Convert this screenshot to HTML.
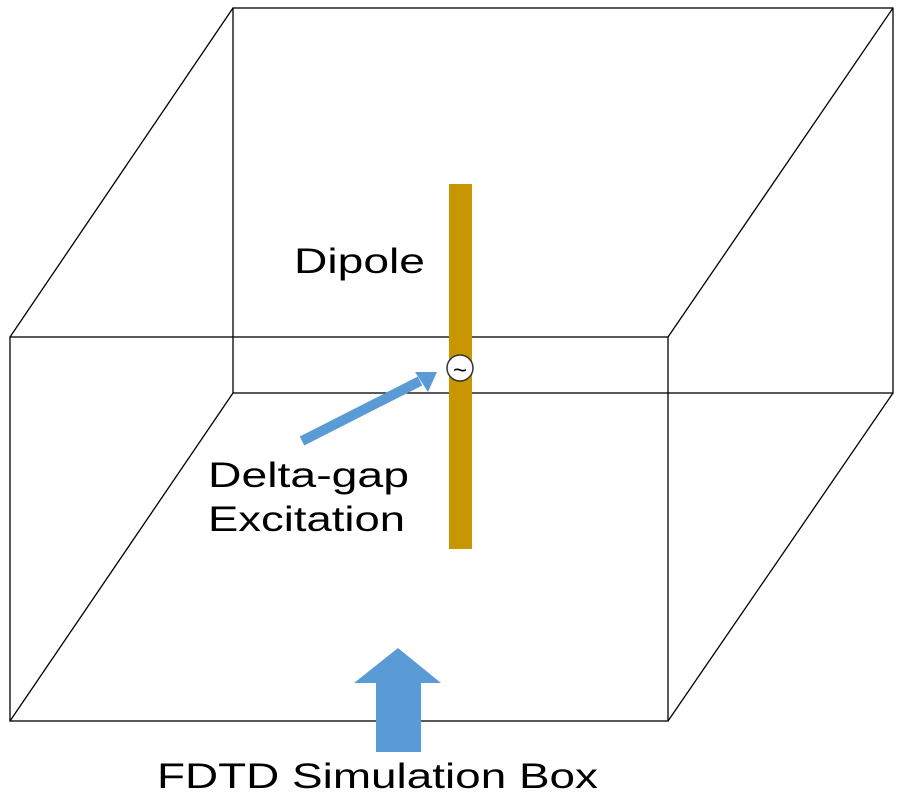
<!DOCTYPE html>
<html><head><style>body{margin:0;background:#fff}</style></head><body>
<svg width="900" height="800" viewBox="0 0 900 800" xmlns="http://www.w3.org/2000/svg">
<g stroke="#000" stroke-width="1.3" fill="none">
<rect x="233" y="8" width="660" height="385"/>
<rect x="10" y="337" width="658" height="384"/>
<line x1="10" y1="337" x2="233" y2="8"/>
<line x1="668" y1="337" x2="893" y2="8"/>
<line x1="10" y1="721" x2="233" y2="393"/>
<line x1="668" y1="721" x2="893" y2="393"/>
</g>
<rect x="449" y="184" width="23" height="365" fill="#C89600"/>
<circle cx="460" cy="368" r="13" fill="#fff" stroke="#333" stroke-width="1.5"/>
<text x="460" y="378" font-family="Liberation Sans, sans-serif" font-size="24" text-anchor="middle">~</text>
<line x1="302" y1="441" x2="420" y2="381" stroke="#5B9BD5" stroke-width="10"/>
<polygon points="437,372 415,372 428,392" fill="#5B9BD5"/>
<polygon points="376,752 421,752 421,683 441,683 398,648 354,683 376,683" fill="#5B9BD5"/>
<g font-family="Liberation Sans, sans-serif" font-size="35" fill="#000" lengthAdjust="spacingAndGlyphs">
<text x="294" y="273" textLength="131" lengthAdjust="spacingAndGlyphs">Dipole</text>
<text x="208" y="487" textLength="201" lengthAdjust="spacingAndGlyphs">Delta-gap</text>
<text x="208" y="531" textLength="197" lengthAdjust="spacingAndGlyphs">Excitation</text>
<text x="157" y="788" textLength="441" lengthAdjust="spacingAndGlyphs">FDTD Simulation Box</text>
</g>
</svg>
</body></html>
